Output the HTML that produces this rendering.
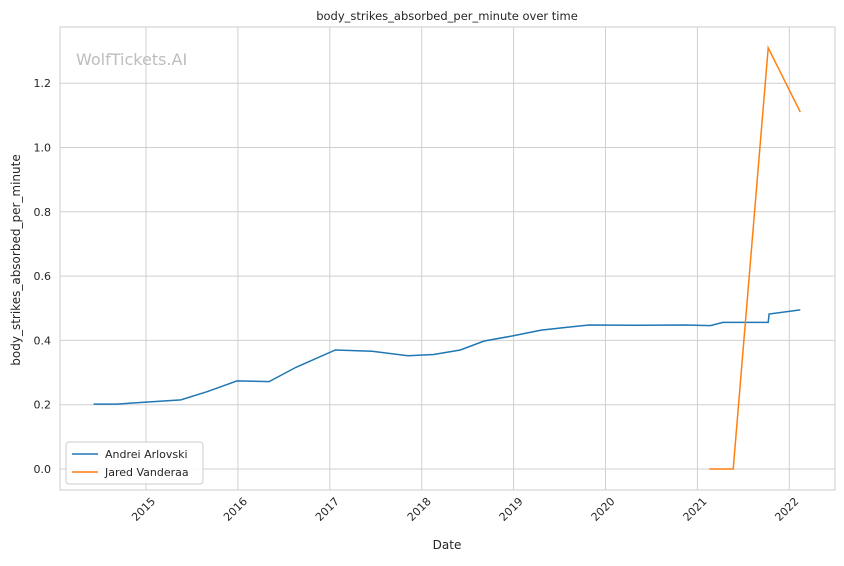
<!DOCTYPE html>
<html><head><meta charset="utf-8"><style>
body{margin:0;background:#fff;font-family:"Liberation Sans","DejaVu Sans",sans-serif;}
svg text{font-family:"DejaVu Sans","Liberation Sans",sans-serif;}
</style></head><body>
<svg id="chart" width="844" height="561" xmlns="http://www.w3.org/2000/svg"></svg>
<script>
const xTickLabels=["2015","2016","2017","2018","2019","2020","2021","2022"];
const yTickLabels=["0.0","0.2","0.4","0.6","0.8","1.0","1.2"];
const arlovskiDates=[2014.43,2014.68,2015.0,2015.38,2015.66,2015.99,2016.34,2016.63,2017.06,2017.46,2017.85,2018.13,2018.42,2018.68,2018.99,2019.30,2019.56,2019.82,2020.38,2020.87,2021.14,2021.28,2021.77,2021.78,2022.12];
const arlovskiValues=[0.202,0.202,0.208,0.215,0.24,0.274,0.272,0.316,0.37,0.366,0.352,0.356,0.37,0.398,0.414,0.432,0.44,0.448,0.447,0.448,0.446,0.456,0.456,0.482,0.495];
const vanderaaDates=[2021.13,2021.39,2021.77,2022.12];
const vanderaaValues=[0,0,1.31,1.11];
const svg=document.getElementById('chart');
const NS='http://www.w3.org/2000/svg';
const L=60,R=835,T=27,B=490;
const xs=y=>146+(y-2015)*91.9;
const ys=v=>469-v*321.5;
function el(tag,attrs,parent){const e=document.createElementNS(NS,tag);for(const k in attrs)e.setAttribute(k,attrs[k]);(parent||svg).appendChild(e);return e;}
xTickLabels.forEach(t=>{const x=xs(+t);
 const g=el('line',{x1:x,x2:x,y1:T,y2:B,stroke:'#d0d0d0','stroke-width':1});
 
 
 const tx=el('text',{x:0,y:0,'font-size':11,fill:'#262626','text-anchor':'end',transform:`translate(${x+10},${B+12}) rotate(-45)`});
 tx.textContent=t;
 
 
});
yTickLabels.forEach(t=>{const y=ys(+t);
 const g=el('line',{x1:L,x2:R,y1:y,y2:y,stroke:'#d0d0d0','stroke-width':1});
 
 
 const tx=el('text',{x:L-9,y:y+4,'font-size':11,fill:'#262626','text-anchor':'end'});
 tx.textContent=t;
 
 
});
const frame=el('rect',{x:L,y:T,width:R-L,height:B-T,fill:'none',stroke:'#cccccc','stroke-width':1});


function line(dates,vals,color,name){
 const d=dates.map((x,i)=>(i?'L':'M')+xs(x).toFixed(1)+','+ys(vals[i]).toFixed(1)).join(' ');
 const p=el('path',{d:d,fill:'none',stroke:color,'stroke-width':1.5});
 
 
}
line(arlovskiDates,arlovskiValues,'#1f77b4','series-andrei-arlovski');
line(vanderaaDates,vanderaaValues,'#ff7f0e','series-jared-vanderaa');
const wm=el('text',{x:76,y:65,'font-size':16,fill:'#bdbdbd'});wm.textContent='WolfTickets.AI';


const title=el('text',{x:447,y:20,'font-size':11.5,fill:'#262626','text-anchor':'middle'});title.textContent='body_strikes_absorbed_per_minute over time';


const xt=el('text',{x:447,y:549,'font-size':12,fill:'#262626','text-anchor':'middle'});xt.textContent='Date';


const yt=el('text',{x:0,y:0,'font-size':12,fill:'#262626','text-anchor':'middle',transform:'translate(20,260) rotate(-90)'});yt.textContent='body_strikes_absorbed_per_minute';


const lg=el('g',{});


el('rect',{x:66,y:442,width:137,height:42,rx:3,fill:'#fff','fill-opacity':0.85,stroke:'#cccccc'},lg);
[['Andrei Arlovski','#1f77b4',458],['Jared Vanderaa','#ff7f0e',476]].forEach(([n,c,y])=>{
 const g=el('g',{},lg);
 
 
 el('line',{x1:72,x2:98,y1:y-4,y2:y-4,stroke:c,'stroke-width':1.5},g);
 const t=el('text',{x:105,y:y,'font-size':11,fill:'#262626'},g);t.textContent=n;
});
</script>
</body></html>
